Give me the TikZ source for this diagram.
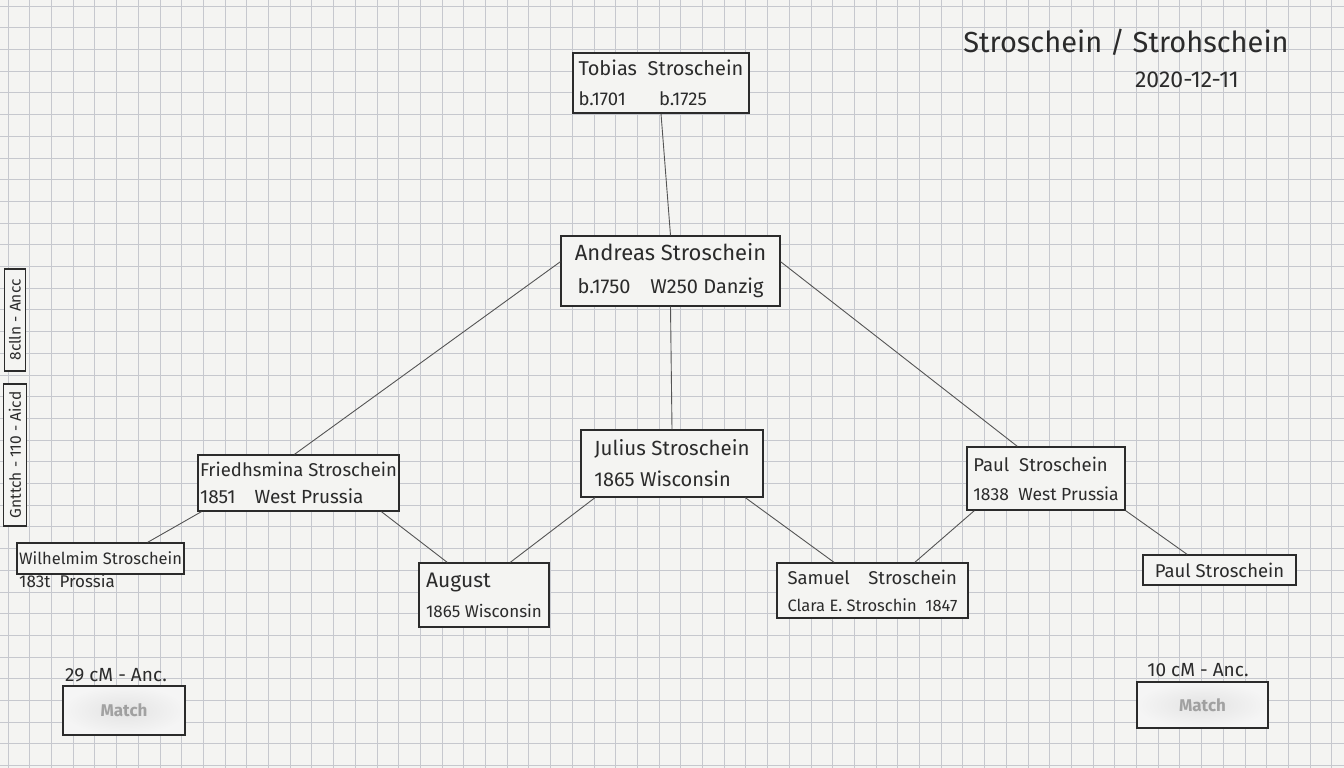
\documentclass[tikz,border=0pt]{standalone}
\usepackage{fontspec}
\setmainfont{Fira Sans}
\usetikzlibrary{calc,positioning}

\definecolor{paper}{HTML}{F4F4F2}
\definecolor{gridgray}{HTML}{C6C8CE}
\definecolor{ink}{HTML}{2B2B2B}

\tikzset{
  person/.style={draw=ink, line width=1.3pt, fill=paper, inner sep=2pt, align=left, text=ink},
  link/.style={draw=ink!80, line width=0.9pt},
  note/.style={text=ink, inner sep=1pt},
  matchbox/.style={draw=ink, line width=1.3pt, inner color=gray!22, outer color=gray!8, minimum width=#1},
  blurtext/.style={text=gray!60!black, font=\fontsize{17}{17}\selectfont\bfseries},
}

\begin{document}
\begin{tikzpicture}[x=1pt,y=-1pt]
  %paper and grid
  \fill[paper] (0,0) rectangle (1344,768);
  \useasboundingbox (0,0) rectangle (1344,768);
  \foreach \gx in {8,29.7,...,1344} \draw[gridgray, line width=0.8pt] (\gx,0) -- (\gx,768);
  \foreach \gy in {6,27.7,...,768} \draw[gridgray, line width=0.8pt] (0,\gy) -- (1344,\gy);

  %title
  \node[note, font=\fontsize{29}{29}\selectfont] (title) at (1126,42) {Stroschein / Strohschein};
  \node[note, font=\fontsize{23}{23}\selectfont] (date) at (1187,80) {2020-12-11};

  %persons
  \node[person, minimum width=176, minimum height=60, font=\fontsize{20}{30}\selectfont] (tobias) at (661,83)
    {Tobias\ \ Stroschein\\ {\fontsize{18.5}{18.5}\selectfont b.1701\quad\ \ \ b.1725}};
  \node[person, minimum width=219, minimum height=70, align=center, font=\fontsize{22}{33}\selectfont] (andreas) at (670.5,271)
    {Andreas Stroschein\\ {\fontsize{20}{20}\selectfont b.1750\quad W250 Danzig}};
  \node[person, minimum width=199, minimum height=56, font=\fontsize{18.5}{27}\selectfont] (fried) at (298.5,483)
    {Friedhsmina Stroschein\\ {\fontsize{19}{19}\selectfont 1851\quad West Prussia}};
  \node[person, minimum width=182, minimum height=67, font=\fontsize{20.5}{31}\selectfont] (julius) at (672,463.5)
    {Julius Stroschein\\ {\fontsize{20}{20}\selectfont 1865 Wisconsin}};
  \node[person, minimum width=158, minimum height=63, font=\fontsize{18.5}{29}\selectfont] (paula) at (1046,478.5)
    {Paul\ \ Stroschein\\ {\fontsize{17.5}{17.5}\selectfont 1838\ \ West Prussia}};
  \node[person, minimum width=167, minimum height=31, font=\fontsize{16.5}{16.5}\selectfont] (wilhelm) at (100.5,558.5)
    {Wilhelmim Stroschein};
  \node[note, font=\fontsize{17}{17}\selectfont, anchor=west] (wilhelmdate) at (18,581) {183t\ \ Prossia};
  \node[person, minimum width=130, minimum height=64, font=\fontsize{21}{30}\selectfont] (august) at (484,595)
    {August\\ {\fontsize{17}{17}\selectfont 1865 Wisconsin}};
  \node[person, minimum width=191, minimum height=55, font=\fontsize{18.5}{27}\selectfont] (samuel) at (872.5,590.5)
    {Samuel\quad Stroschein\\ {\fontsize{16.5}{16.5}\selectfont Clara E. Stroschin\ \ 1847}};
  \node[person, minimum width=153, minimum height=30, font=\fontsize{18.5}{18.5}\selectfont] (paulb) at (1219.5,570)
    {Paul Stroschein};

  %side notes
  \node[person, rotate=90, minimum width=102, minimum height=21, font=\fontsize{15.5}{15.5}\selectfont] (sideup) at (15,320)
    {8clln - Ancc};
  \node[person, rotate=90, minimum width=142, minimum height=23, font=\fontsize{15.5}{15.5}\selectfont] (sidelow) at (15,455)
    {Gnttch - 110 - Aicd};

  %matches
  \node[matchbox=122, minimum height=49] (matchl) at (124,710.5) {};
  \node[note, font=\fontsize{19}{19}\selectfont] (matchllabel) at (116,675) {29 cM - Anc.};
  \node[matchbox=131, minimum height=46] (matchr) at (1202.5,705) {};
  \node[note, font=\fontsize{19}{19}\selectfont] (matchrlabel) at (1198,670) {10 cM - Anc.};
  \node[blurtext, opacity=0.45] (blurl) at (matchl) {Match};
  \node[blurtext, opacity=0.45] (blurr) at (matchr) {Match};

  %connectors
  \draw[link] (tobias.south) -- (andreas.north);
  \draw[link] ($(andreas.north west)!0.37!(andreas.south west)$) -- ($(fried.north west)!0.48!(fried.north east)$);
  \draw[link] (andreas.south) -- (julius.north);
  \draw[link] ($(andreas.north east)!0.37!(andreas.south east)$) -- ($(paula.north west)!0.32!(paula.north east)$);
  \draw[link] ($(fried.south west)!0.02!(fried.south east)$) -- ($(wilhelm.north west)!0.78!(wilhelm.north east)$);
  \draw[link] ($(fried.south west)!0.91!(fried.south east)$) -- ($(august.north west)!0.22!(august.north east)$);
  \draw[link] ($(julius.south west)!0.08!(julius.south east)$) -- ($(august.north west)!0.70!(august.north east)$);
  \draw[link] ($(julius.south west)!0.90!(julius.south east)$) -- ($(samuel.north west)!0.30!(samuel.north east)$);
  \draw[link] ($(paula.south west)!0.05!(paula.south east)$) -- ($(samuel.north west)!0.72!(samuel.north east)$);
  \draw[link] (paula.south east) -- ($(paulb.north west)!0.29!(paulb.north east)$);
\end{tikzpicture}
\end{document}
